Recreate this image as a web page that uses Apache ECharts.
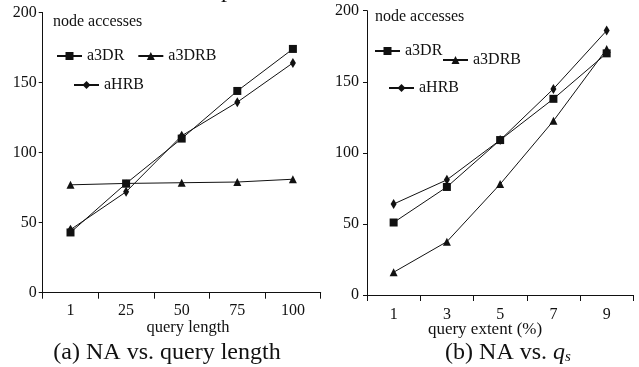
<!DOCTYPE html>
<html>
<head>
<meta charset="utf-8">
<script src="https://cdn.jsdelivr.net/npm/echarts@6/dist/echarts.min.js"></script>
<style>
  html, body { margin: 0; padding: 0; background: #fff; }
  #chart { width: 639px; height: 367px; }
</style>
</head>
<body>
<div id="chart"></div>
<script>
// ---- data ----
const lengthCategories = ['1', '25', '50', '75', '100'];
const extentCategories = ['1', '3', '5', '7', '9'];
const a3DR_length  = [43, 78, 110, 144, 174];
const a3DRB_length = [77, 78, 78.5, 79, 81];
const aHRB_length  = [45, 72, 112, 136, 164];
const a3DR_extent  = [51, 76, 109, 138, 170];
const a3DRB_extent = [16, 37.5, 78, 122.5, 173];
const aHRB_extent  = [64, 81, 109, 145, 186];
const yTicks = { min: 0, max: 200, interval: 50 };

const FONT = 'Liberation Serif';
const INK = '#111';

const chart = echarts.init(document.getElementById('chart'), null, { renderer: 'canvas' });

function yAxis(gridIndex, margin) {
  return {
    type: 'value', gridIndex, min: yTicks.min, max: yTicks.max, interval: yTicks.interval,
    axisLine: { show: true, lineStyle: { color: INK, width: 1 } },
    axisTick: { show: true, length: 4, lineStyle: { color: INK } },
    splitLine: { show: false },
    axisLabel: { color: INK, fontSize: 16, fontFamily: FONT, margin }
  };
}
function xAxis(gridIndex, data, margin) {
  return {
    type: 'category', gridIndex, data, boundaryGap: true,
    axisLine: { show: true, lineStyle: { color: INK, width: 1 } },
    axisTick: { show: true, length: 6, lineStyle: { color: INK } },
    splitLine: { show: false },
    axisLabel: { color: INK, fontSize: 16, fontFamily: FONT, margin }
  };
}
const markers = {
  a3DR:  { symbol: 'rect', symbolSize: 8 },
  a3DRB: { symbol: 'triangle', symbolSize: 8 },
  aHRB:  { symbol: 'diamond', symbolSize: [6, 10] }
};
function series(name, data, idx) {
  return {
    type: 'line', name, data, xAxisIndex: idx, yAxisIndex: idx,
    symbol: markers[name].symbol, symbolSize: markers[name].symbolSize,
    showAllSymbol: true,
    lineStyle: { color: INK, width: 1 },
    itemStyle: { color: INK },
    emphasis: { disabled: true },
    animation: false
  };
}
function legend(names, left, top) {
  return {
    data: names, left, top, padding: 0, itemGap: 13, itemWidth: 25, itemHeight: 10,
    selectedMode: false,
    textStyle: { color: INK, fontSize: 16, fontFamily: FONT }
  };
}

chart.setOption({
  animation: false,
  textStyle: { fontFamily: FONT },
  grid: [
    { left: 42.7, top: 12.5, width: 278, height: 280.2 },
    { left: 367, top: 10.7, width: 266.3, height: 284.3 }
  ],
  xAxis: [xAxis(0, lengthCategories, 10), xAxis(1, extentCategories, 12)],
  yAxis: [yAxis(0, 6), yAxis(1, 8)],
  legend: [
    legend(['a3DR', 'a3DRB'], 56, 48),
    legend(['aHRB'], 73, 77),
    legend(['a3DR'], 374, 43),
    legend(['a3DRB'], 442, 52),
    legend(['aHRB'], 388, 80)
  ],
  series: [
    series('a3DR', a3DR_length, 0),
    series('a3DRB', a3DRB_length, 0),
    series('aHRB', aHRB_length, 0),
    series('a3DR', a3DR_extent, 1),
    series('a3DRB', a3DRB_extent, 1),
    series('aHRB', aHRB_extent, 1)
  ],
  graphic: [
    { type: 'text', left: 53, top: 14, style: { text: 'node accesses', fill: INK, font: '16px "' + FONT + '"' } },
    { type: 'text', left: 375, top: 9, style: { text: 'node accesses', fill: INK, font: '16px "' + FONT + '"' } },
    { type: 'text', x: 188, y: 328, style: { text: 'query length', fill: INK, font: '16.5px "' + FONT + '"', align: 'center', verticalAlign: 'middle' } },
    { type: 'text', x: 485, y: 330, style: { text: 'query extent (%)', fill: INK, font: '17px "' + FONT + '"', align: 'center', verticalAlign: 'middle' } },
    { type: 'text', x: 167, y: 353, style: { text: '(a) NA vs. query length', fill: INK, font: '24px "' + FONT + '"', align: 'center', verticalAlign: 'middle' } },
    { type: 'text', x: 508, y: 353, style: {
        text: '{n|(b) NA vs. }{q|q}{s|s}', fill: INK, align: 'center', verticalAlign: 'middle',
        rich: {
          n: { fontSize: 24, fontFamily: FONT, color: INK },
          q: { fontSize: 24, fontFamily: FONT, fontStyle: 'italic', color: INK },
          s: { fontSize: 15, fontFamily: FONT, fontStyle: 'italic', color: INK, verticalAlign: 'bottom', padding: [7, 0, 0, 0] }
        } } },
    { type: 'text', x: 227, y: -9, style: { text: 'p', fill: INK, font: '24px "' + FONT + '"', align: 'center', verticalAlign: 'middle' } }
  ]
});
</script>
</body>
</html>
